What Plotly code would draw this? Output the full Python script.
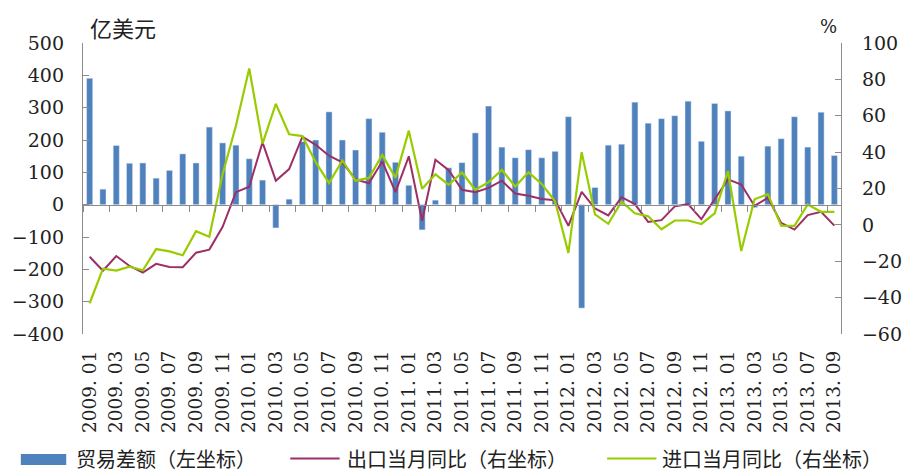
import plotly.graph_objects as go

months = ["2009.01","2009.02","2009.03","2009.04","2009.05","2009.06","2009.07","2009.08","2009.09","2009.10","2009.11","2009.12",
          "2010.01","2010.02","2010.03","2010.04","2010.05","2010.06","2010.07","2010.08","2010.09","2010.10","2010.11","2010.12",
          "2011.01","2011.02","2011.03","2011.04","2011.05","2011.06","2011.07","2011.08","2011.09","2011.10","2011.11","2011.12",
          "2012.01","2012.02","2012.03","2012.04","2012.05","2012.06","2012.07","2012.08","2012.09","2012.10","2012.11","2012.12",
          "2013.01","2013.02","2013.03","2013.04","2013.05","2013.06","2013.07","2013.08","2013.09"]

trade_balance = [391, 48, 183, 128, 129, 82, 106, 157, 129, 240, 191, 184,
                 142, 76, -72, 17, 195, 200, 287, 200, 169, 266, 224, 131,
                 60, -78, 14, 114, 130, 222, 305, 178, 145, 170, 145, 165,
                 272, -320, 53, 184, 187, 317, 252, 266, 275, 320, 196, 313,
                 290, 150, -9, 181, 204, 272, 178, 286, 152]

export_yoy = [-17.5, -25.2, -17.1, -22.6, -26.2, -21.4, -23.1, -23.3, -15.3, -13.6,
              -1.1, 18.0, 21.0, 45.4, 24.3, 30.7, 48.5, 44.0, 38.0, 34.4,
              25.0, 22.9, 34.9, 18.0, 37.7, 2.3, 35.8, 30.0, 19.3, 18.0,
              20.3, 24.3, 17.2, 16.0, 14.2, 13.6, -0.5, 18.2, 9.0, 5.2,
              15.2, 11.4, 1.6, 2.6, 10.2, 11.4, 3.2, 14.0, 25.0, 22.2,
              10.4, 14.9, 1.1, -2.6, 5.4, 7.2, -0.4]

import_yoy = [-43.1, -24.1, -25.1, -23.0, -25.0, -13.3, -14.6, -16.7, -3.5, -6.5,
              28.0, 54.5, 86.0, 44.7, 66.5, 49.8, 48.8, 34.5, 23.0, 35.4,
              24.3, 25.8, 38.5, 26.0, 51.8, 19.8, 27.8, 22.0, 28.8, 19.3,
              23.5, 30.2, 21.1, 28.9, 22.5, 13.0, -15.4, 40.0, 5.8, 0.6,
              12.7, 6.4, 4.7, -2.4, 2.4, 2.4, 0.5, 6.4, 29.6, -14.4,
              14.1, 16.9, -0.4, -0.5, 11.2, 7.2, 7.2]

series_names = ["贸易差额（左坐标）", "出口当月同比（右坐标）", "进口当月同比（右坐标）"]
left_unit = "亿美元"
right_unit = "%"

BLUE = "#4F81BD"
PURPLE = "#9B2F66"
GREEN = "#99CC00"
AXIS = "#8C8C8C"
NUM_FONT = "DejaVu Serif"
CJK_FONT = "Noto Sans CJK SC"

n = len(months)
xs = list(range(n))
tick_text = [m.replace(".", ". ") for m in months]

left_range = [-400, 500]
right_range = [-60, 100]

fig = go.Figure()
fig.add_trace(go.Bar(x=xs, y=trade_balance, name=series_names[0], marker_color=BLUE,
                     width=0.46, xaxis="x", yaxis="y", showlegend=False))
fig.add_trace(go.Scatter(x=xs, y=export_yoy, name=series_names[1], mode="lines",
                         line=dict(color=PURPLE, width=2), xaxis="x", yaxis="y2", showlegend=False))
fig.add_trace(go.Scatter(x=xs, y=import_yoy, name=series_names[2], mode="lines",
                         line=dict(color=GREEN, width=2.2), xaxis="x", yaxis="y2", showlegend=False))
# dummy trace so the zero-line category axis is drawn
fig.add_trace(go.Scatter(x=[None], y=[None], xaxis="x2", yaxis="y", showlegend=False, hoverinfo="skip"))

zero_pos = (0 - left_range[0]) / (left_range[1] - left_range[0])

fig.update_layout(
    width=914, height=473, autosize=False,
    margin=dict(l=80, r=66, t=43, b=139, pad=0),
    paper_bgcolor="white", plot_bgcolor="white",
    bargap=0.5,
    xaxis=dict(range=[-0.5, n - 0.5], tickmode="array", tickvals=xs[::2], ticktext=tick_text[::2],
               tickangle=-90, ticks="", showline=False, showgrid=False, zeroline=False,
               tickfont=dict(family=NUM_FONT, size=18.5, color="#222"), ticklabelstandoff=12),
    xaxis2=dict(range=[-0.5, n - 0.5], overlaying="x", anchor="free", position=zero_pos,
                tickmode="array", tickvals=[i - 0.5 for i in xs[::2]], ticks="outside", ticklen=6,
                tickcolor=AXIS, showticklabels=False, showline=True, linecolor=AXIS, linewidth=1.3,
                showgrid=False, zeroline=False),
    yaxis=dict(range=left_range, dtick=100, tick0=0, showline=True, linecolor=AXIS, linewidth=1.3,
               ticks="inside", ticklen=6, tickcolor=AXIS, showgrid=False, zeroline=False,
               tickfont=dict(family=NUM_FONT, size=19, color="#222"), ticklabelstandoff=14),
    yaxis2=dict(range=right_range, dtick=20, tick0=0, overlaying="y", side="right", anchor="x",
                showline=True, linecolor=AXIS, linewidth=1.3, ticks="inside", ticklen=6, tickcolor=AXIS,
                showgrid=False, zeroline=False,
                tickfont=dict(family=NUM_FONT, size=19, color="#222"), ticklabelstandoff=16),
)

# axis unit labels
fig.add_annotation(text=left_unit, xref="paper", yref="paper", x=0.006, y=1.055, xanchor="left",
                   yanchor="middle", showarrow=False, font=dict(family=CJK_FONT, size=22, color="#222"))
fig.add_annotation(text=right_unit, xref="paper", yref="paper", x=0.983, y=1.055, xanchor="center",
                   yanchor="middle", showarrow=False, font=dict(family=NUM_FONT, size=18, color="#222"))

# legend drawn manually (pixel positions converted to paper coords)
def px_x(p):
    return (p - 80) / 768

def px_y(p):
    return (334 - p) / 291

leg_y = px_y(458.5)
fig.add_shape(type="rect", xref="paper", yref="paper", x0=px_x(17), x1=px_x(63),
              y0=px_y(454), y1=px_y(465), fillcolor=BLUE, line=dict(width=0))
fig.add_shape(type="line", xref="paper", yref="paper", x0=px_x(290), x1=px_x(340),
              y0=leg_y, y1=leg_y, line=dict(color=PURPLE, width=2))
fig.add_shape(type="line", xref="paper", yref="paper", x0=px_x(611), x1=px_x(661),
              y0=leg_y, y1=leg_y, line=dict(color=GREEN, width=2.2))
for name, px in zip(series_names, [72, 346, 666]):
    fig.add_annotation(text=name, xref="paper", yref="paper", x=px_x(px), y=leg_y, xanchor="left",
                       yanchor="middle", showarrow=False, borderpad=0,
                       font=dict(family=CJK_FONT, size=20, color="#222"))

fig.write_html("out.html", config={"displayModeBar": False},
               post_script="document.body.style.margin='0';")
